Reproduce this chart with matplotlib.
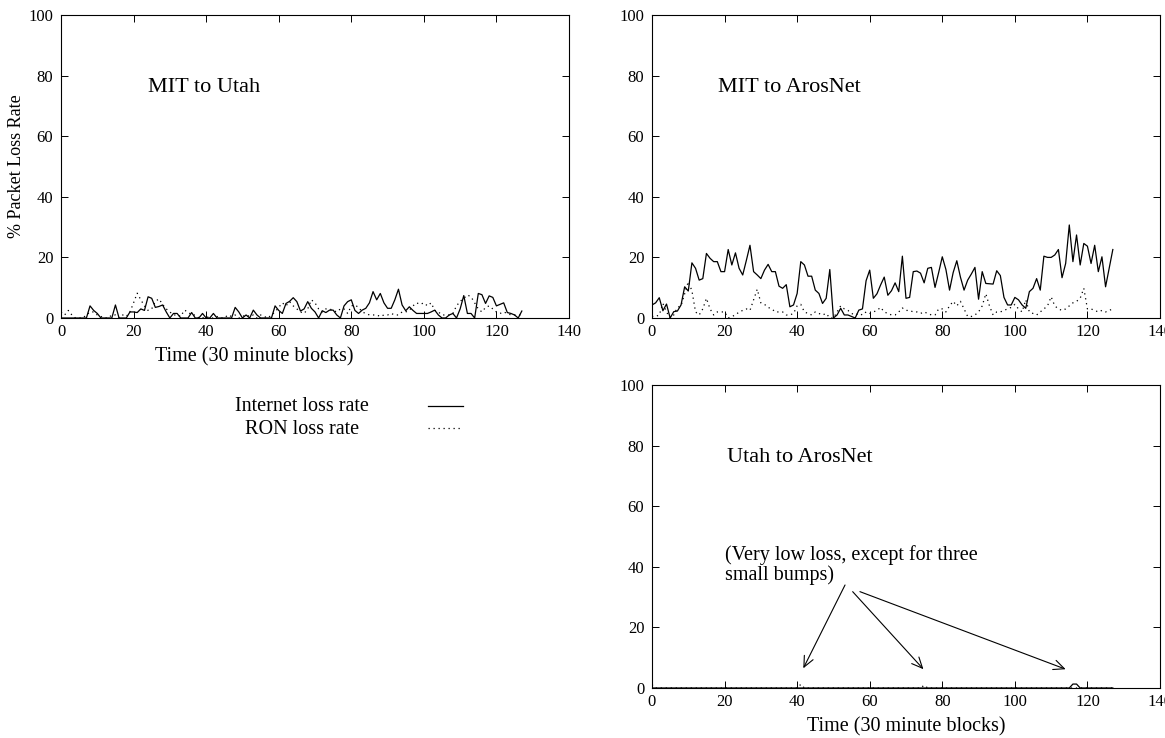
import matplotlib
matplotlib.use('Agg')
import matplotlib.pyplot as plt
from matplotlib.lines import Line2D

plt.rcParams['font.family'] = ['Liberation Serif', 'DejaVu Serif']
plt.rcParams['font.size'] = 12

# ---------------- data ----------------
time_blocks = list(range(128))

mit_utah_internet = [
    0, 0, 0, 0, 0, 0, 0, 0, 4, 2.5, 1.5, 0, 0, 0, 0, 4.3, 0, 0, 0, 2,
    2, 1.8, 3, 2.5, 7, 6.5, 3.5, 3.8, 4.3, 2, 0, 1.5, 1.5, 0, 0, 0, 1.8, 0, 0, 1.5,
    0, 0, 1.5, 0, 0, 0, 0, 0, 3.5, 2, 0, 1, 0, 2.6, 1, 0, 0, 0, 0, 4,
    2.5, 1.5, 4.8, 5.5, 6.7, 5.4, 2.3, 3, 5.4, 3.2, 2, 0, 2.4, 1.8, 2.6, 2.6, 1, 0, 4, 5.4,
    6, 2.5, 1.5, 2.6, 3.2, 5, 8.7, 6, 8.1, 5, 3.2, 3.2, 6, 9.5, 4.3, 2.4, 3.7, 2.5, 1.5, 1.5,
    1.5, 1.5, 2, 2.6, 1, 0, 0, 1, 1.5, 0, 3, 7.4, 1.5, 1.5, 0, 8.1, 7.7, 4.8, 7.3, 6.8,
    4, 4.5, 5, 1.8, 1.5, 1, 0, 2.3]

mit_utah_ron = [
    2, 1, 2.5, 1, 0, 0, 0, 1, 2, 2, 1, 0.5, 0, 0, 1, 1, 0, 1, 0.5, 2,
    5, 8.2, 6, 4, 2.5, 3, 5.5, 6.3, 4.5, 3, 2, 1, 1, 0.5, 2.6, 2, 1, 1, 0, 0,
    0.5, 0, 0, 0.5, 0, 0, 1, 0.5, 1, 0, 0.5, 1, 0.5, 1, 0, 1, 0.5, 0, 1, 2,
    3.5, 5, 4, 5.4, 4, 3, 2, 1.5, 3, 6, 5, 3, 2, 3, 3, 2.5, 2, 3, 3, 1.5,
    4, 4.3, 3.5, 2, 1.5, 1, 1, 1, 0.5, 1, 1, 1.5, 1, 1, 2, 2, 2.5, 4, 5, 4.5,
    5, 4, 5, 2.5, 2, 1, 1, 1, 1.5, 4, 5.5, 6.5, 7.6, 7, 5, 3, 2, 3.5, 4, 3,
    2, 1.5, 2, 1.5, 1, 1, 1, 1]

mit_aros_internet = [
    4.3, 5, 6.7, 2.4, 4.6, 0, 2.1, 2.3, 4.3, 10.3, 8.9, 18.2, 16.4, 12.5, 13, 21.3, 19.7, 18.6, 18.6, 15.3,
    15.3, 22.6, 17.5, 21.5, 16.4, 14.2, 19, 24, 15.3, 14.2, 13, 15.8, 17.7, 15.3, 15.3, 10.5, 9.8, 11, 3.7, 4.3,
    8.1, 18.6, 17.5, 13.8, 13.8, 9.2, 8.1, 4.8, 6.5, 16, 0, 1, 3.2, 1, 1, 0.5, 0, 2.6, 3, 12.3,
    15.8, 6.5, 8, 10.9, 13.5, 7.5, 9, 11.6, 8.7, 20.4, 6.5, 6.8, 15.3, 15.5, 14.8, 11.6, 16.4, 16.7, 10.1, 15,
    20.2, 16, 9.2, 15, 18.9, 13.5, 9.2, 12.5, 14.5, 16.7, 6.2, 15.3, 11.4, 11.3, 11.2, 15.6, 14, 6.8, 4.3, 4.3,
    6.8, 6, 4.3, 3.2, 8.7, 9.8, 13, 9.2, 20.4, 20, 20, 20.8, 22.6, 13.3, 18, 30.7, 18.6, 27.4, 17.5, 24.6,
    23.7, 18, 24, 15.3, 20.2, 10.3, 16.5, 22.6]

mit_aros_ron = [
    0.5, 0.5, 1, 4.8, 2, 0, 1, 3.5, 4, 8, 12, 9, 2, 1, 3, 6.5, 3, 1, 2, 2,
    2, 0, 0.5, 1, 2, 2.5, 3, 2.5, 6, 9.5, 5, 4.5, 3.5, 3, 2, 2, 2, 1, 1, 1.5,
    4, 4.5, 2, 1.5, 1, 2, 1.5, 1, 1.5, 0, 0, 2, 4, 3, 2.5, 1.5, 1, 1.5, 1, 2,
    1.5, 2, 2.5, 3.5, 2, 1.5, 1, 1, 2, 3.3, 2.5, 2.5, 2, 2, 1.5, 2, 1.5, 1, 1, 3,
    3, 2, 4, 5.5, 4, 5.5, 3, 0.5, 0.5, 1, 2, 4, 8, 4, 1, 2, 2, 2.5, 3, 3.5,
    4.5, 3, 2, 6, 2, 1.5, 1, 2, 3, 4, 7, 4, 3, 2.5, 3, 4, 5, 5.5, 6.5, 9.8,
    3, 3, 2.5, 2, 2.5, 2, 2.5, 3]

utah_aros_internet = [0] * 116 + [1.3, 1.3] + [0] * 10
utah_aros_ron = [1.1] + [0] * 40 + [1.2] + [0] * 33 + [0.9] + [0] * 52

panel_titles = ['MIT to Utah', 'MIT to ArosNet', 'Utah to ArosNet']
x_ticks = [0, 20, 40, 60, 80, 100, 120, 140]
y_ticks = [0, 20, 40, 60, 80, 100]
legend_labels = ['Internet loss rate', 'RON loss rate']
note_text = '(Very low loss, except for three\nsmall bumps)'
bump_targets = [(41.7, 6.5), (74.8, 6.2), (114.0, 6.2)]
bump_sources = [(53.2, 34.0), (55.3, 31.8), (57.3, 31.8)]

# ---------------- layout ----------------
W, H = 1165, 738
fig = plt.figure(figsize=(W / 100, H / 100), dpi=100)


def px_axes(l, t, r, b):
    return fig.add_axes([l / W, 1 - b / H, (r - l) / W, (b - t) / H])


SOLID = dict(color='black', lw=0.9, linestyle='-')
DOT = dict(color='black', lw=0.9, linestyle=(0, (1, 3)))


def style(ax):
    ax.set_xlim(0, 140)
    ax.set_ylim(0, 100)
    ax.set_xticks(x_ticks)
    ax.set_yticks(y_ticks)
    ax.tick_params(direction='in', top=True, right=True, length=4.7, width=0.7,
                   labelsize=12)
    ax.tick_params(axis='y', pad=5.5)
    ax.tick_params(axis='x', pad=4.5)
    for s in ax.spines.values():
        s.set_linewidth(0.8)


ax1 = px_axes(61, 15, 569, 318)
ax2 = px_axes(652, 15, 1160, 318)
ax3 = px_axes(652, 385, 1160, 688)

pairs = [(ax1, mit_utah_internet, mit_utah_ron),
         (ax2, mit_aros_internet, mit_aros_ron),
         (ax3, utah_aros_internet, utah_aros_ron)]
title_x = [24, 18.2, 20.7]

for (ax, inet, ron), title, tx in zip(pairs, panel_titles, title_x):
    style(ax)
    ax.plot(time_blocks, inet, **SOLID)
    ax.plot(time_blocks, ron, **DOT)
    ax.text(tx, 76, title, ha='left', va='center', fontsize=16)

ax1.set_ylabel('% Packet Loss Rate', fontsize=13)
ax1.yaxis.set_label_coords(-0.07, 0.5)
ax1.set_xlabel('Time (30 minute blocks)', fontsize=14.5)
ax1.xaxis.set_label_coords(0.38, -0.095)
ax3.set_xlabel('Time (30 minute blocks)', fontsize=14.5)
ax3.xaxis.set_label_coords(0.5, -0.095)

ax3.text(20.1, 40.6, note_text, ha='left', va='center', fontsize=14.5,
         linespacing=1.05)
for src, dst in zip(bump_sources, bump_targets):
    ax3.annotate('', xy=dst, xytext=src,
                 arrowprops=dict(arrowstyle='->,head_length=0.55,head_width=0.25',
                                 lw=0.8, color='black', shrinkA=0, shrinkB=0,
                                 mutation_scale=14))

# legend (gnuplot style key)
for label, sty, y in zip(legend_labels, (SOLID, DOT), (406, 428)):
    fig.text(302 / W, 1 - (y + 1) / H, label, ha='center', va='center', fontsize=14.5)
    fig.add_artist(Line2D([428 / W, 463 / W], [1 - y / H, 1 - y / H],
                          transform=fig.transFigure, **sty))

fig.savefig('out.png', dpi=100)
